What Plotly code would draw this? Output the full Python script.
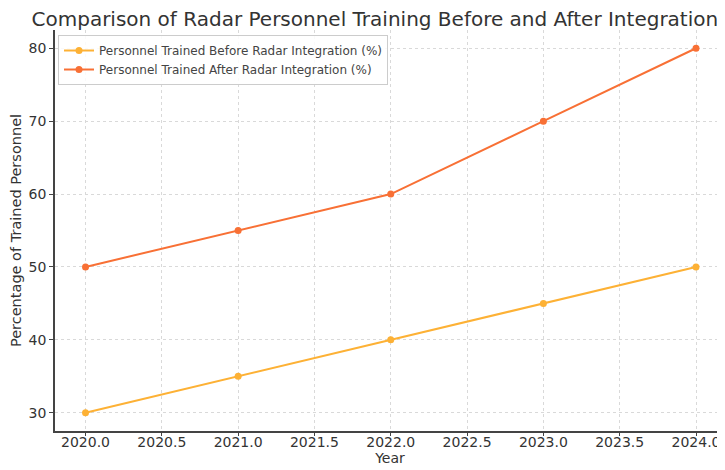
import plotly.graph_objects as go

years = [2020, 2021, 2022, 2023, 2024]
before = [30, 35, 40, 45, 50]
after = [50, 55, 60, 70, 80]
x_ticks = [2020.0, 2020.5, 2021.0, 2021.5, 2022.0, 2022.5, 2023.0, 2023.5, 2024.0]
x_tick_labels = ["2020.0", "2020.5", "2021.0", "2021.5", "2022.0", "2022.5", "2023.0", "2023.5", "2024.0"]
y_ticks = [30, 40, 50, 60, 70, 80]

c_before = "#FDB135"
c_after = "#F87035"
font = "DejaVu Sans"

fig = go.Figure()
fig.add_trace(go.Scatter(x=years, y=before, mode="lines+markers",
                         name="Personnel Trained Before Radar Integration (%)",
                         line=dict(color=c_before, width=2), marker=dict(size=7, color=c_before)))
fig.add_trace(go.Scatter(x=years, y=after, mode="lines+markers",
                         name="Personnel Trained After Radar Integration (%)",
                         line=dict(color=c_after, width=2), marker=dict(size=7, color=c_after)))

grid = dict(showgrid=True, gridcolor="#d9d9d9", griddash="dot", gridwidth=1)
fig.update_layout(
    width=725, height=470,
    margin=dict(l=47, r=8, t=22, b=47, autoexpand=False),
    paper_bgcolor="white", plot_bgcolor="white",
    font=dict(family=font, color="#333333"),
    title=dict(text="Comparison of Radar Personnel Training Before and After Integration",
               x=0.506, xanchor="center", xref="container", y=0.977, yanchor="middle",
               font=dict(size=20, color="#333333")),
    legend=dict(x=0.0045, y=0.9875, xanchor="left", yanchor="top",
                bgcolor="rgba(255,255,255,0.85)", bordercolor="#cccccc", borderwidth=1,
                font=dict(size=12, color="#444444"), tracegroupgap=0, itemwidth=30),
    xaxis=dict(range=[2019.8, 2024.19], tickvals=x_ticks, ticktext=x_tick_labels,
               tickfont=dict(size=14), ticks="outside", ticklen=3, tickcolor="#444",
               ticklabelstandoff=-6,
               ticklabeloverflow="allow", automargin=False,
               showline=True, linecolor="#444444", linewidth=1.5,
               title=dict(text="Year", font=dict(size=14), standoff=0), zeroline=False, **grid),
    yaxis=dict(range=[27.5, 82.5], tickvals=y_ticks, tickfont=dict(size=14),
               ticks="outside", ticklen=4, tickcolor="#444", automargin=False,
               showline=True, linecolor="#444444", linewidth=1.5,
               title=dict(text="Percentage of Trained Personnel", font=dict(size=14.5), standoff=6),
               zeroline=False, **grid),
)

fig.write_html("out.html")
